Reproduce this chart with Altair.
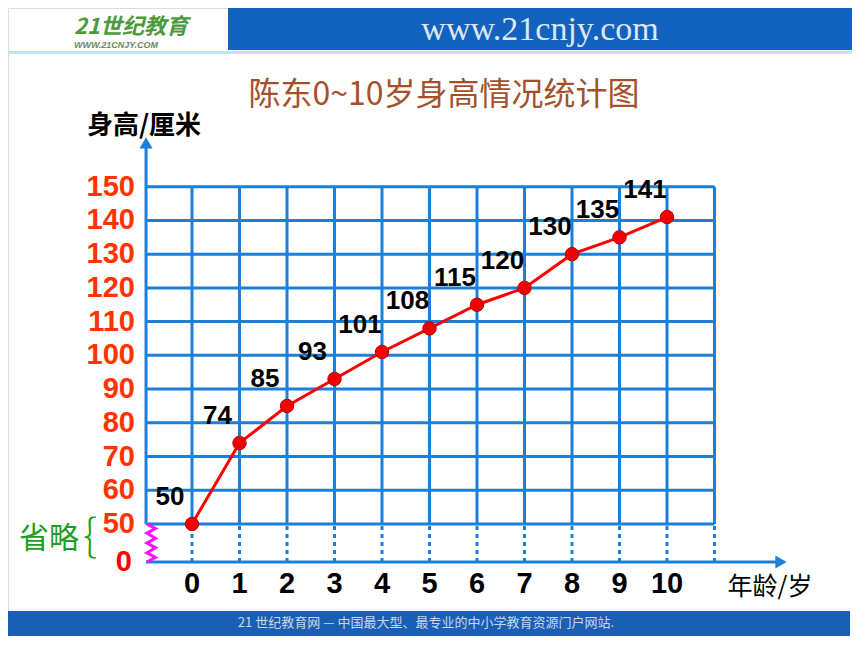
import altair as alt
import pandas as pd

# ---- data ----
ages = [0, 1, 2, 3, 4, 5, 6, 7, 8, 9, 10]
heights = [50, 74, 85, 93, 101, 108, 115, 120, 130, 135, 141]
y_ticks = [50, 60, 70, 80, 90, 100, 110, 120, 130, 140, 150]
x_ticks = [0, 1, 2, 3, 4, 5, 6, 7, 8, 9, 10]
grid_cols = [0, 1, 2, 3, 4, 5, 6, 7, 8, 9, 10, 11]
title_text = "陈东0~10岁身高情况统计图"
y_title = "身高/厘米"
x_title = "年龄/岁"
omit_text = "省略"

# ---- scales (broken axis: 0..50 compressed) ----
xs = alt.Scale(domain=[0, 10], range=[184, 659], nice=False, zero=False)
ys = alt.Scale(domain=[0, 50, 150], range=[554, 516, 178.7], nice=False, zero=False)

AX = -0.968   # y-axis column position in x units
GRID = "#1a80d9"
NUM_FONT = "Liberation Sans"
CJK = "Noto Sans CJK SC"

one = pd.DataFrame({"a": [0]})

def X(f):
    return alt.X(f, scale=xs, axis=None)

def Y(f):
    return alt.Y(f, scale=ys, axis=None)

# ---- decoration: banners ----
top_band = alt.Chart(one).mark_rect(color="#1262bf").encode(
    x=alt.value(220), x2=alt.value(844), y=alt.value(0), y2=alt.value(42))
top_line = alt.Chart(one).mark_rect(color="#bfe6ee").encode(
    x=alt.value(0), x2=alt.value(844), y=alt.value(43), y2=alt.value(46))
top_text = alt.Chart(one).mark_text(
    text="www.21cnjy.com", font="Liberation Serif", fontSize=34,
    color="#dfe6f0", align="center", baseline="middle").encode(
    x=alt.value(532), y=alt.value(22))
logo_text = alt.Chart(one).mark_text(
    text="21世纪教育", font=CJK, fontSize=22, fontWeight="bold", fontStyle="italic",
    color="#4d9a3c", align="left", baseline="middle").encode(
    x=alt.value(66), y=alt.value(19))
logo_sub = alt.Chart(one).mark_text(
    text="WWW.21CNJY.COM", font=NUM_FONT, fontSize=9, fontWeight="bold", fontStyle="italic",
    color="#6a8a60", align="left", baseline="middle").encode(
    x=alt.value(66), y=alt.value(37))
bot_band = alt.Chart(one).mark_rect(color="#1a5fb4").encode(
    x=alt.value(0), x2=alt.value(842), y=alt.value(603), y2=alt.value(628))
bot_text = alt.Chart(one).mark_text(
    text="21 世纪教育网 — 中国最大型、最专业的中小学教育资源门户网站.", font=CJK, fontSize=13,
    color="#c9d6ec", align="center", baseline="middle").encode(
    x=alt.value(418), y=alt.value(615))

# ---- grid ----
hgrid = alt.Chart(pd.DataFrame({"v": y_ticks, "x0": AX, "x1": 11})).mark_rule(
    color=GRID, strokeWidth=3).encode(y=Y("v:Q"), x=X("x0:Q"), x2="x1:Q")
vgrid = alt.Chart(pd.DataFrame({"c": grid_cols, "y0": 50, "y1": 150})).mark_rule(
    color=GRID, strokeWidth=3).encode(x=X("c:Q"), y=Y("y0:Q"), y2="y1:Q")
vdots = alt.Chart(pd.DataFrame({"c": grid_cols, "y0": 0, "y1": 50})).mark_rule(
    color=GRID, strokeWidth=3, strokeDash=[4, 4]).encode(x=X("c:Q"), y=Y("y0:Q"), y2="y1:Q")

# ---- axes with arrows ----
yaxis = alt.Chart(pd.DataFrame({"x": [AX], "y0": [50], "y1": [162]})).mark_rule(
    color=GRID, strokeWidth=3).encode(x=X("x:Q"), y=Y("y0:Q"), y2="y1:Q")
xaxis = alt.Chart(pd.DataFrame({"x0": [AX], "x1": [12.35], "y": [0]})).mark_rule(
    color=GRID, strokeWidth=3).encode(x=X("x0:Q"), x2="x1:Q", y=Y("y:Q"))
yarrow = alt.Chart(pd.DataFrame({"x": [AX], "y": [163]})).mark_point(
    shape="triangle-up", filled=True, color=GRID, size=170, opacity=1).encode(x=X("x:Q"), y=Y("y:Q"))
xarrow = alt.Chart(pd.DataFrame({"x": [12.4], "y": [0]})).mark_point(
    shape="triangle-right", filled=True, color=GRID, size=170, opacity=1).encode(x=X("x:Q"), y=Y("y:Q"))

# zigzag break marker
zz_y = [50, 44, 38, 31, 25, 19, 12, 6, 0]
zz_x = [AX + (0.2 if i % 2 else 0.02) for i in range(len(zz_y))]
zigzag = alt.Chart(pd.DataFrame({"x": zz_x, "y": zz_y, "o": list(range(len(zz_y)))})).mark_line(
    color="#ff10ff", strokeWidth=3).encode(x=X("x:Q"), y=Y("y:Q"), order="o:Q")

# ---- data line ----
df = pd.DataFrame({"age": ages, "h": heights})
line = alt.Chart(df).mark_line(color="#ff0000", strokeWidth=3).encode(x=X("age:Q"), y=Y("h:Q"))
pts = alt.Chart(df).mark_point(filled=True, shape="circle", size=180, color="#f00000",
                               stroke="#b80000", strokeWidth=1, opacity=1).encode(
    x=X("age:Q"), y=Y("h:Q"))
labels = alt.Chart(df).mark_text(font=NUM_FONT, fontSize=26, fontWeight="bold", color="#000000",
                                 dx=-22, dy=-27, align="center", baseline="middle").encode(
    x=X("age:Q"), y=Y("h:Q"), text="h:Q")

# ---- tick labels ----
ytl = alt.Chart(pd.DataFrame({"v": y_ticks})).mark_text(
    font=NUM_FONT, fontSize=29, fontWeight="bold", color="#ff3300",
    align="right", baseline="middle").encode(x=alt.value(127), y=Y("v:Q"), text="v:Q")
yzero = alt.Chart(pd.DataFrame({"v": [0]})).mark_text(
    font=NUM_FONT, fontSize=29, fontWeight="bold", color="#ff0000",
    align="right", baseline="middle").encode(x=alt.value(124), y=Y("v:Q"), text="v:Q")
xtl = alt.Chart(pd.DataFrame({"v": x_ticks})).mark_text(
    font=NUM_FONT, fontSize=29, fontWeight="bold", color="#000000",
    align="center", baseline="middle").encode(x=X("v:Q"), y=alt.value(576), text="v:Q")

# ---- titles ----
title = alt.Chart(one).mark_text(text=title_text, font=CJK, fontSize=32, color="#a5502a",
                                 align="center", baseline="middle").encode(
    x=alt.value(436), y=alt.value(87))
ytitle = alt.Chart(one).mark_text(text=y_title, font=CJK, fontSize=26, fontWeight="bold",
                                  color="#000000", align="center", baseline="middle").encode(
    x=alt.value(136), y=alt.value(118))
xtitle = alt.Chart(one).mark_text(text=x_title, font=CJK, fontSize=25, color="#000000",
                                  align="center", baseline="middle").encode(
    x=alt.value(762), y=alt.value(579))
omit = alt.Chart(one).mark_text(text=omit_text, font=CJK, fontSize=30, color="#1aa01a",
                                align="left", baseline="middle").encode(
    x=alt.value(11), y=alt.value(531))
brace = alt.Chart(one).mark_text(text="{", font=CJK, fontSize=44, fontWeight=300, color="#1aa01a",
                                 align="left", baseline="middle").encode(
    x=alt.value(75), y=alt.value(530))

chart = alt.layer(
    top_band, top_line, top_text, logo_text, logo_sub, bot_band, bot_text,
    hgrid, vgrid, vdots, yaxis, xaxis, yarrow, xarrow, zigzag,
    line, pts, labels, ytl, yzero, xtl, title, ytitle, xtitle, omit, brace
).properties(
    width=844, height=629, autosize=alt.AutoSizeParams(type="none"), padding=0
).configure_view(stroke=None).configure(background="white")

chart.save("out.html", embed_options={"renderer": "svg", "actions": False})
